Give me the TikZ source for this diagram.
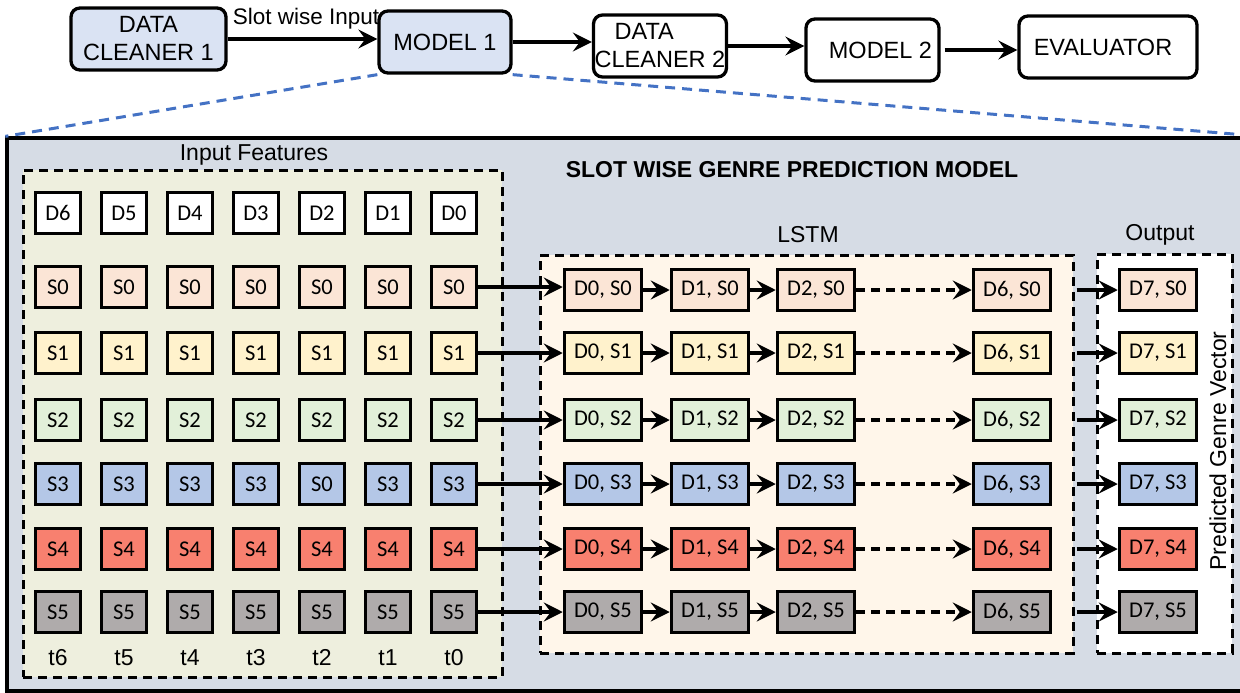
\documentclass[tikz,border=0pt]{standalone}
\usepackage{fontspec}
\setmainfont{Liberation Sans}
\newfontfamily\calfont{Carlito}
\usetikzlibrary{arrows.meta,calc}
\definecolor{bgblue}{HTML}{D6DCE5}
\definecolor{topblue}{HTML}{DAE3F3}
\definecolor{infill}{HTML}{EEEFDE}
\definecolor{lstmfill}{HTML}{FFF6EA}
\definecolor{cS0}{HTML}{FBE5D6}
\definecolor{cS1}{HTML}{FFF2CC}
\definecolor{cS2}{HTML}{E2F0D9}
\definecolor{cS3}{HTML}{B4C7E7}
\definecolor{cS4}{HTML}{F8806F}
\definecolor{cS5}{HTML}{AFABAB}
\definecolor{linkblue}{HTML}{4472C4}
\begin{document}
\begin{tikzpicture}[x=1pt,y=-1pt,
  topbox/.style={draw,line width=3.3pt,rounded corners=9pt,minimum height=62pt,inner sep=0pt,
    font=\fontsize{23.5}{28}\selectfont},
  arr/.style={line width=3.4pt,-{Stealth[length=19pt,width=19pt,inset=7pt]}},
  darr/.style={arr,dash pattern=on 9pt off 6pt},
  dashbox/.style={draw,line width=3pt,dash pattern=on 9pt off 6pt,inner sep=0pt},
  sbox/.style={draw,line width=3.5pt,minimum width=45pt,minimum height=41pt,inner sep=0pt,
    font=\calfont\fontsize{22.5}{24}\selectfont},
  lbox/.style={sbox,minimum width=77pt},
  lbl/.style={inner sep=0pt,font=\fontsize{23}{25}\selectfont}]
\clip (0,0) rectangle (1240,693);
% outer frame and panels
\node[draw,line width=3.3pt,fill=bgblue,minimum width=1253pt,minimum height=553pt,inner sep=0pt] (frame) at (633.5,414.5) {};
\node[dashbox,fill=infill,minimum width=479pt,minimum height=507pt] (inbox) at (262.5,423.5) {};
\node[dashbox,fill=lstmfill,minimum width=533pt,minimum height=398pt] (lstm) at (806.5,454) {};
\node[dashbox,fill=white,minimum width=135pt,minimum height=399pt] (outbox) at (1164.5,453.5) {};
% top row
\node[topbox,fill=topblue,minimum width=155pt,align=center] (dc1) at (148.5,39) {DATA\\CLEANER 1};
\node[topbox,fill=topblue,minimum width=132pt] (m1) at (445,42) {MODEL 1};
\node[topbox,fill=white,minimum width=133pt,align=left] (dc2) at (660,46) {\hspace*{20pt}DATA\\CLEANER 2};
\node[topbox,fill=white,minimum width=133pt] (m2) at (872.5,50) {\hspace*{16pt}MODEL 2};
\node[topbox,fill=white,minimum width=178pt] (ev) at (1108,47) {EVALUATOR\hspace*{10pt}};
\node[inner sep=0pt,font=\fontsize{22.5}{24}\selectfont] (slot) at (306,19) {Slot wise Input};
\draw[arr] (dc1.east) -- (dc1.east -| m1.west);
\draw[arr] (m1.east) -- (m1.east -| dc2.west);
\draw[arr] (dc2.east) -- (dc2.east -| m2.west);
\draw[arr] ([xshift=4pt]m2.east) -- (m2.east -| ev.west);
\draw[linkblue,line width=3pt,dash pattern=on 10pt off 7pt] (m1.south west) -- (frame.north west);
\draw[linkblue,line width=3pt,dash pattern=on 10pt off 7pt] (m1.south east) -- (frame.north east);
% labels
\node[lbl] (tin) at (254,155) {Input Features};
\node[inner sep=0pt,font=\bfseries\fontsize{23}{25}\selectfont] (title) at (792,170) {SLOT WISE GENRE PREDICTION MODEL};
\node[lbl] (tlstm) at (808,235) {LSTM};
\node[lbl] (tout) at (1160,235) {Output};
\node[lbl,rotate=90] (tvec) at (1218,451) {Predicted Genre Vector};
% input grid
\foreach \x [count=\c from 0] in {58,124,190,256,322,388,454} {
  \pgfmathtruncatemacro\d{6-\c}
  \node[sbox,fill=white] (in-0-\c) at (\x,213) {D\d};
  \foreach \y [count=\r from 1] in {287,353,420,484,549,612} {
    \pgfmathtruncatemacro\s{\r-1}
    \node[sbox,fill=cS\s] (in-\r-\c) at (\x,\y) {\ifnum\r=4 \ifnum\c=4 S0\else S\s\fi\else S\s\fi};
  }
  \node[lbl] (t-\c) at (\x,658) {t\d};
}
% LSTM and output
\foreach \y [count=\r from 1] in {290,353,420,484,549,612} {
  \pgfmathtruncatemacro\s{\r-1}
  \node[lbox,fill=cS\s] (l-\r-0) at (603,\y) {D0, S\s};
  \node[lbox,fill=cS\s] (l-\r-1) at (710,\y) {D1, S\s};
  \node[lbox,fill=cS\s] (l-\r-2) at (816,\y) {D2, S\s};
  \node[lbox,fill=cS\s] (l-\r-3) at (1012,\y) {D6, S\s};
  \node[lbox,fill=cS\s] (o-\r) at (1158,\y) {D7, S\s};
  \draw[arr] (in-\r-6.east) -- (in-\r-6.east -| l-\r-0.west);
  \draw[arr] (l-\r-0.east) -- (l-\r-1.west);
  \draw[arr] (l-\r-1.east) -- (l-\r-2.west);
  \draw[darr] (l-\r-2.east) -- (l-\r-3.west);
  \draw[arr,shorten <=2pt] (lstm.east |- o-\r.west) -- (o-\r.west);
}
\end{tikzpicture}
\end{document}
